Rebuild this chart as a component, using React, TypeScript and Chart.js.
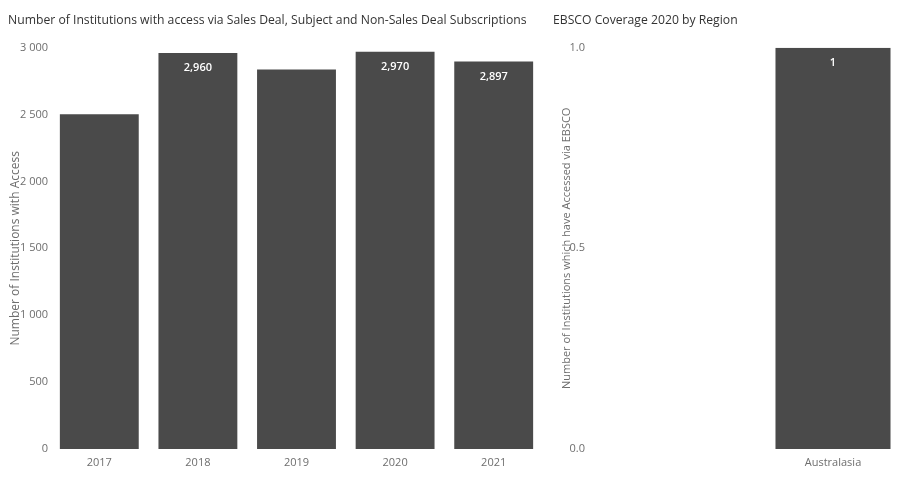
import React, { useEffect, useRef } from "react";
import { Chart, registerables } from "chart.js";

Chart.register(...registerables);

// ---- Data ----
const years = ["2017", "2018", "2019", "2020", "2021"];
const institutionsWithAccess = [2503, 2960, 2837, 2970, 2897];
const yearLabelShown = [false, true, false, true, true];
const yearTicks = [0, 500, 1000, 1500, 2000, 2500, 3000];

const regions = ["Australasia"];
const regionCoverage = [1];
const regionLabelShown = [true];

const leftTitle =
  "Number of Institutions with access via Sales Deal, Subject and Non-Sales Deal Subscriptions";
const leftYTitle = "Number of Institutions with Access";
const rightTitle = "EBSCO Coverage 2020 by Region";
const rightYTitle = "Number of Institutions which have Accessed via EBSCO";

const FONT = '"Open Sans", "Noto Sans", sans-serif';
const BAR = "#4a4a4a";
const TICK = "#6e6e6e";

function makeLabelPlugin(shown: boolean[], fmt: (v: number) => string) {
  return {
    id: "barLabels",
    afterDatasetsDraw(chart: any) {
      const { ctx } = chart;
      const meta = chart.getDatasetMeta(0);
      const data = chart.data.datasets[0].data as number[];
      meta.data.forEach((bar: any, i: number) => {
        if (!shown[i]) return;
        ctx.save();
        ctx.fillStyle = "#ffffff";
        ctx.font = `600 11px ${FONT}`;
        ctx.textAlign = "center";
        ctx.textBaseline = "middle";
        ctx.fillText(fmt(data[i]), bar.x, bar.y + 15);
        ctx.restore();
      });
    },
  };
}

function spaceThousands(v: number) {
  return String(v).replace(/\B(?=(\d{3})+(?!\d))/g, " ");
}
function commaThousands(v: number) {
  return String(v).replace(/\B(?=(\d{3})+(?!\d))/g, ",");
}

function LeftChart() {
  const ref = useRef<HTMLCanvasElement>(null);
  useEffect(() => {
    const chart = new Chart(ref.current!, {
      type: "bar",
      data: {
        labels: years,
        datasets: [
          {
            data: institutionsWithAccess,
            backgroundColor: BAR,
            categoryPercentage: 0.8,
            barPercentage: 1,
          },
        ],
      },
      options: {
        responsive: false,
        animation: false,
        layout: { padding: { left: 8, right: 5, top: 0, bottom: 0 } },
        plugins: {
          legend: { display: false },
          tooltip: { enabled: false },
          title: {
            display: true,
            text: leftTitle,
            align: "start",
            color: "#333333",
            font: { family: FONT, size: 12.2, weight: "normal" },
            padding: { top: 13, bottom: 20 },
          },
        },
        scales: {
          x: {
            grid: { display: false, drawTicks: false },
            border: { display: false },
            ticks: { color: TICK, font: { family: FONT, size: 11 }, padding: 7 },
            afterFit: (s: any) => {
              s.height = 31;
            },
          },
          y: {
            min: 0,
            max: 3000,
            afterBuildTicks: (s: any) => {
              s.ticks = yearTicks.map((v) => ({ value: v }));
            },
            grid: { display: false, drawTicks: false },
            border: { display: false },
            ticks: {
              color: TICK,
              font: { family: FONT, size: 11 },
              padding: 2,
              callback: (v: any) => spaceThousands(Number(v)),
            },
            title: {
              display: true,
              text: leftYTitle,
              color: TICK,
              font: { family: FONT, size: 12 },
              padding: { top: 0, bottom: 0 },
            },
            afterFit: (s: any) => {
              s.width = 42;
              s.paddingTop = 6;
              s.paddingBottom = 6;
            },
          },
        },
      },
      plugins: [makeLabelPlugin(yearLabelShown, commaThousands)],
    });
    return () => chart.destroy();
  }, []);
  return (
    <canvas
      ref={ref}
      width={548}
      height={480}
      style={{ position: "absolute", left: 0, top: 0, width: 548, height: 480 }}
    />
  );
}

function RightChart() {
  const ref = useRef<HTMLCanvasElement>(null);
  useEffect(() => {
    const chart = new Chart(ref.current!, {
      type: "bar",
      data: {
        labels: regions,
        datasets: [
          {
            data: regionCoverage,
            backgroundColor: BAR,
            categoryPercentage: 0.913,
            barPercentage: 1,
          },
        ],
      },
      options: {
        responsive: false,
        animation: false,
        layout: { padding: { left: 5, right: 5, top: 0, bottom: 0 } },
        plugins: {
          legend: { display: false },
          tooltip: { enabled: false },
          title: {
            display: true,
            text: rightTitle,
            align: "start",
            color: "#333333",
            font: { family: FONT, size: 12.2, weight: "normal" },
            padding: { top: 13, bottom: 20 },
          },
        },
        scales: {
          x: {
            grid: { display: false, drawTicks: false },
            border: { display: false },
            ticks: { color: TICK, font: { family: FONT, size: 11 }, padding: 7 },
            afterFit: (s: any) => {
              s.height = 31;
            },
          },
          y: {
            min: 0,
            max: 1,
            ticks: {
              stepSize: 0.5,
              color: TICK,
              font: { family: FONT, size: 11 },
              padding: 185,
              callback: (v: any) => Number(v).toFixed(1),
            },
            grid: { display: false, drawTicks: false },
            border: { display: false },
            title: {
              display: true,
              text: rightYTitle,
              color: TICK,
              font: { family: FONT, size: 11 },
              padding: { top: 7, bottom: 0 },
            },
            afterFit: (s: any) => {
              s.width = 217;
              s.paddingTop = 6;
              s.paddingBottom = 6;
            },
          },
        },
      },
      plugins: [makeLabelPlugin(regionLabelShown, (v) => String(v))],
    });
    return () => chart.destroy();
  }, []);
  return (
    <canvas
      ref={ref}
      width={353}
      height={480}
      style={{ position: "absolute", left: 548, top: 0, width: 353, height: 480 }}
    />
  );
}

export default function App() {
  return (
    <div
      style={{
        position: "absolute",
        left: 0,
        top: 0,
        width: 901,
        height: 480,
        background: "#ffffff",
        overflow: "hidden",
      }}
    >
      <LeftChart />
      <RightChart />
    </div>
  );
}
